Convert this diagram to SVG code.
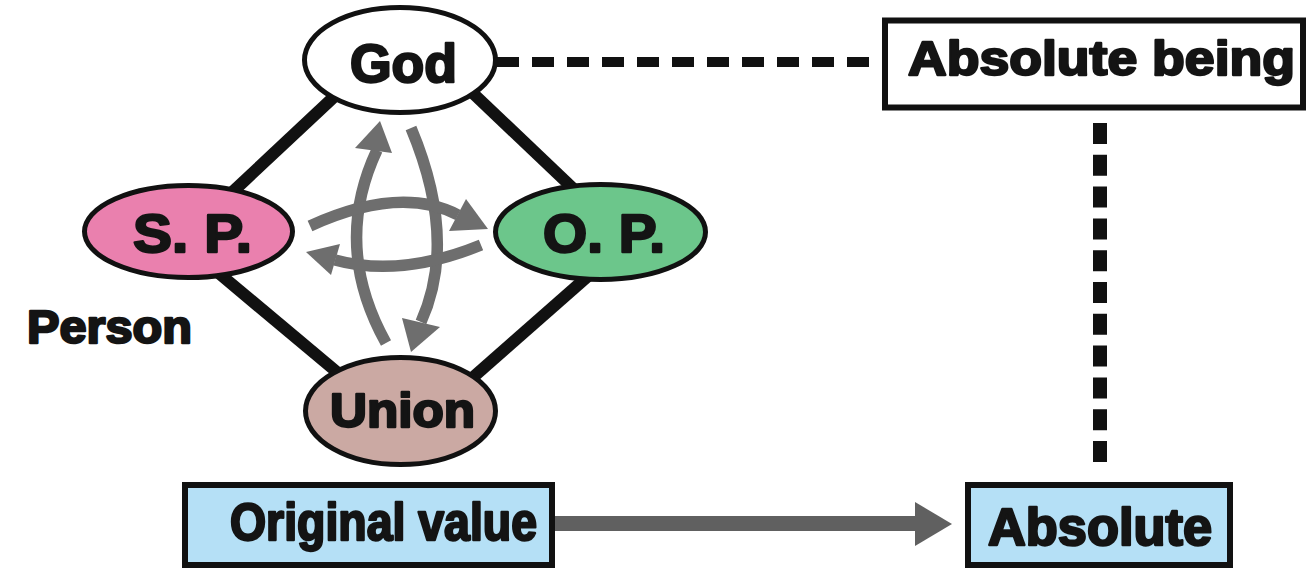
<svg xmlns="http://www.w3.org/2000/svg" width="1306" height="569" viewBox="0 0 1306 569">
<style>
.t{font-family:"Liberation Sans",Arial,sans-serif;font-weight:bold;fill:#141414;stroke:#141414;stroke-width:2.4;stroke-linejoin:round;text-anchor:start}
.node{stroke:#111;stroke-width:5}
.box{stroke:#111;stroke-width:6}
.link{stroke:#111;stroke-width:12;fill:none}
.garc{stroke:#6e6e6e;stroke-width:11.5;fill:none}
.ghead{fill:#6e6e6e}
</style>
<rect x="0" y="0" width="1306" height="569" fill="#ffffff"/>
<g id="connectors">
  <line class="link" x1="352" y1="80" x2="225" y2="199"/>
  <line class="link" x1="458" y1="79" x2="580" y2="195"/>
  <line class="link" x1="215" y1="270" x2="350" y2="383"/>
  <line class="link" x1="595" y1="270" x2="462" y2="387"/>
  <line x1="497" y1="62" x2="885" y2="62" stroke="#111" stroke-width="10" stroke-dasharray="22 13"/>
  <line x1="1100" y1="123" x2="1100" y2="462" stroke="#111" stroke-width="14" stroke-dasharray="21 10.8"/>
  <path class="garc" d="M386 343 Q332 246 377 150"/>
  <polygon class="ghead" points="380,121 355,148 392,153"/>
  <path class="garc" d="M411 128 Q458 240 421 322"/>
  <polygon class="ghead" points="411,352 402,318 440,327"/>
  <path class="garc" d="M310 226 Q400 185 458 215"/>
  <polygon class="ghead" points="488,229 449,231 466,199"/>
  <path class="garc" d="M481 245 Q400 278 335 260"/>
  <polygon class="ghead" points="306,252 340,244 331,275"/>
  <rect x="555" y="516" width="362" height="15" fill="#606060"/>
  <polygon points="915,502 952,524 915,546" fill="#606060"/>
</g>
<g id="god">
  <ellipse class="node" cx="400" cy="60" rx="95.5" ry="52.5" fill="#ffffff"/>
  <text class="t" x="350" y="82" font-size="54" textLength="107" lengthAdjust="spacingAndGlyphs">God</text>
</g>
<g id="sp">
  <ellipse class="node" cx="188.5" cy="231.5" rx="104" ry="46" fill="#ea80ae"/>
  <text class="t" x="133" y="252" font-size="54" textLength="119" lengthAdjust="spacingAndGlyphs">S. P.</text>
</g>
<g id="op">
  <ellipse class="node" cx="600.5" cy="232" rx="105" ry="47.5" fill="#6cc68b"/>
  <text class="t" x="543" y="252" font-size="54" textLength="122" lengthAdjust="spacingAndGlyphs">O. P.</text>
</g>
<g id="union">
  <ellipse class="node" cx="400.5" cy="411" rx="95" ry="53.5" fill="#cba9a3"/>
  <text class="t" x="330" y="427" font-size="48" textLength="145" lengthAdjust="spacingAndGlyphs">Union</text>
</g>
<g id="person">
  <text class="t" x="27" y="343" font-size="46" textLength="165" lengthAdjust="spacingAndGlyphs">Person</text>
</g>
<g id="absolute-being">
  <rect class="box" x="885" y="20.5" width="418" height="87" fill="#ffffff" stroke-width="5"/>
  <text class="t" x="908" y="75" font-size="49" textLength="387" lengthAdjust="spacingAndGlyphs">Absolute being</text>
</g>
<g id="original-value">
  <rect class="box" x="185" y="485" width="367" height="80" fill="#b5e0f6"/>
  <text class="t" x="230" y="540" font-size="51" textLength="307" lengthAdjust="spacingAndGlyphs">Original value</text>
</g>
<g id="absolute">
  <rect class="box" x="968" y="485" width="262" height="80" fill="#b5e0f6"/>
  <text class="t" x="988" y="545" font-size="51" textLength="224" lengthAdjust="spacingAndGlyphs">Absolute</text>
</g>
</svg>
